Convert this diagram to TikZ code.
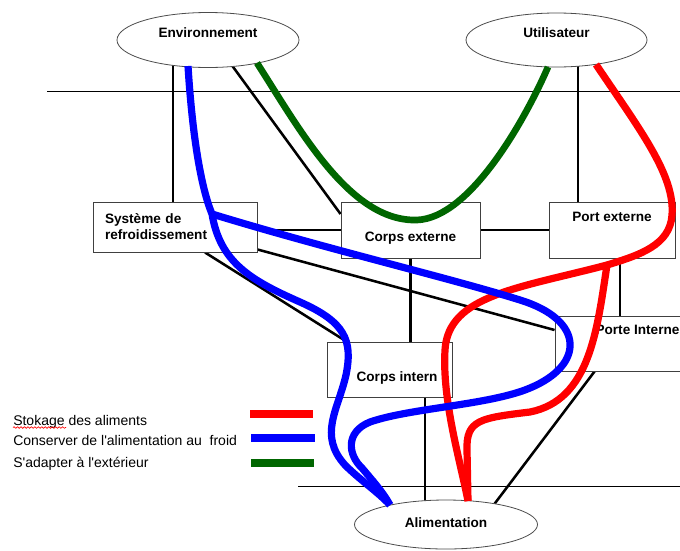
\documentclass[tikz,border=0pt]{standalone}
\usepackage{fontspec}
\setmainfont{Liberation Sans}[Ligatures=TeXOff]
\usetikzlibrary{calc,shapes.geometric,decorations.pathmorphing}
\pgfdeclarelayer{back}
\pgfdeclarelayer{bg}
\pgfsetlayers{back,bg,main}
\definecolor{dgreen}{RGB}{0,102,0}
\begin{document}
\begin{tikzpicture}[x=0.75pt,y=-0.75pt,
  lbl/.style={font=\bfseries\fontsize{10.2pt}{12pt}\selectfont},
  ell/.style={ellipse, draw=black!70, line width=0.6pt, fill=white, inner sep=0pt, lbl},
  box/.style={rectangle, draw=black!75, line width=0.7pt, fill=white, inner sep=0pt, lbl},
  link/.style={line width=1.9pt, black},
  rule/.style={line width=0.75pt, black},
  redp/.style={line width=5.4pt, red},
  bluep/.style={line width=5.4pt, blue},
  greenp/.style={line width=5pt, dgreen},
  legtext/.style={anchor=base west, inner sep=0pt, font=\fontsize{10.5pt}{12.6pt}\selectfont},
  legbar/.style={line width=6pt}
]
\useasboundingbox (0,0) rectangle (680,550);
\begin{pgfonlayer}{back}
\fill[white] (0,0) rectangle (680,550);
\end{pgfonlayer}
\clip (0,0) rectangle (680,550);

% horizontal rules
\draw[rule] (47,91) -- (690,91);
\draw[rule] (298,486) -- (690,486);

% nodes
\node[ell, minimum width=136.5pt, minimum height=41.25pt, text height=7.2pt, text depth=10.5pt] (env) at (208,40) {Environnement};
\node[ell, minimum width=135.75pt, minimum height=40.5pt, text height=7.2pt, text depth=10.5pt] (uti) at (556.5,40) {Utilisateur};
\node[ell, minimum width=137.25pt, minimum height=36.75pt, text height=7.2pt, text depth=3pt] (ali) at (446,524.5) {Alimentation};

\node[box, minimum width=123pt, minimum height=37.5pt, text width=105pt, align=left] (sys) at (175,227) {Système de\\refroidissement};
\node[box, minimum width=104.25pt, minimum height=42pt, text height=17.7pt, text depth=0pt] (cext) at (410.5,230) {Corps externe};
\node[box, minimum width=94.5pt, minimum height=42pt, text height=7.2pt, text depth=19.5pt] (pext) at (612,230) {Port externe};
\node[box, minimum width=93.75pt, minimum height=41.25pt, text height=18.4pt, text depth=0pt] (cint) at (389.5,369.5) {\hspace*{11.25pt}Corps intern};
\node[box, minimum width=123.75pt, minimum height=41.25pt, text height=7.2pt, text depth=20.2pt] (por) at (637.5,343.5) {Porte Interne};

% black links (behind the nodes)
\begin{pgfonlayer}{bg}
\draw[link] ($(sys.north)+(-2,0)$) -- ($(sys.north |- env.center)+(-2,0)$);
\draw[link] ($(env.center)+(20,20)$) -- ($(cext.west)+(0,-16)$);
\draw[link] (cext.west) -- (cext.west -| sys.east);
\draw[link] (cext.east) -- (pext.west);
\draw[link] ($(sys.south)+(30,0)$) -- ($(cint.north west)+(20,0)$);
\draw[link] ($(sys.south east)+(0,-3)$) -- ($(por.west)+(0,-13.5)$);
\draw[link] (cext.south) -- (cext.south |- cint.north);
\draw[link] ($(pext.north)+(-34,0)$) -- ($(pext.north |- uti.center)+(-34,0)$);
\draw[link] ($(pext.south)+(8,0)$) -- ($(pext.south |- por.north)+(8,0)$);
\draw[link] ($(cint.south)+(35.5,0)$) -- ($(cint.south |- ali.center)+(35.5,0)$);
\draw[link] ($(por.south west)+(40,0)$) -- ($(ali.center)+(45,-16)$);
\end{pgfonlayer}

% green: S'adapter a l'exterieur
\draw[greenp] ($(env.center)+(49,23)$) .. controls (300,130) and (350,222) .. (417,220)
  .. controls (470,218) and (525,120) .. ($(uti.center)+(-8.5,27)$);

% red: Stokage des aliments
\draw[redp] ($(uti.center)+(39.5,24.5)$) .. controls (640,130) and (675,175) .. (672,215)
  .. controls (670,245) and (640,255) .. (607,265) coordinate (rj)
  .. controls (520,288) and (448,295) .. (445,350)
  .. controls (442,400) and (460,460) .. ($(ali.center)+(22,-23.5)$);
\draw[redp] (rj) .. controls (597,330) and (590,400) .. (530,412)
  .. controls (480,418) and (466,420) .. (467,450) -- ($(ali.center)+(22,-23.5)$);

% blue: Conserver de l'alimentation au froid
\draw[bluep] ($(env.center)+(-20,26)$) .. controls (192,130) and (200,185) .. (212,214) coordinate (bj)
  .. controls (220,262) and (250,280) .. (300,302)
  .. controls (345,322) and (353,340) .. (346,375)
  .. controls (338,410) and (318,435) .. (345,465)
  .. controls (360,480) and (378,492) .. ($(ali.center)+(-56,-19.5)$);
\draw[bluep] (bj) .. controls (330,250) and (450,278) .. (520,300)
  .. controls (585,320) and (585,365) .. (530,388)
  .. controls (490,405) and (410,408) .. (370,422)
  .. controls (345,432) and (348,455) .. (362,468)
  .. controls (372,480) and (383,492) .. ($(ali.center)+(-56,-19.5)$);

% legend
\node[legtext] (l1) at (13,425.5) {Stokage des aliments};
\node[legtext] (l2) at (13,445) {Conserver de l'alimentation au\ \ froid};
\node[legtext] (l3) at (13,467) {S'adapter à l'extérieur};
\draw[red, line width=0.5pt, decorate, decoration={snake, amplitude=0.6pt, segment length=2.6pt}] ($(l1.base west)+(0,2)$) -- ++(53,0);
\draw[legbar, red] (250,414) -- (313,414);
\draw[legbar, blue] (251,438) -- (315,438);
\draw[legbar, dgreen] (251,463) -- (314,463);
\end{tikzpicture}
\end{document}
